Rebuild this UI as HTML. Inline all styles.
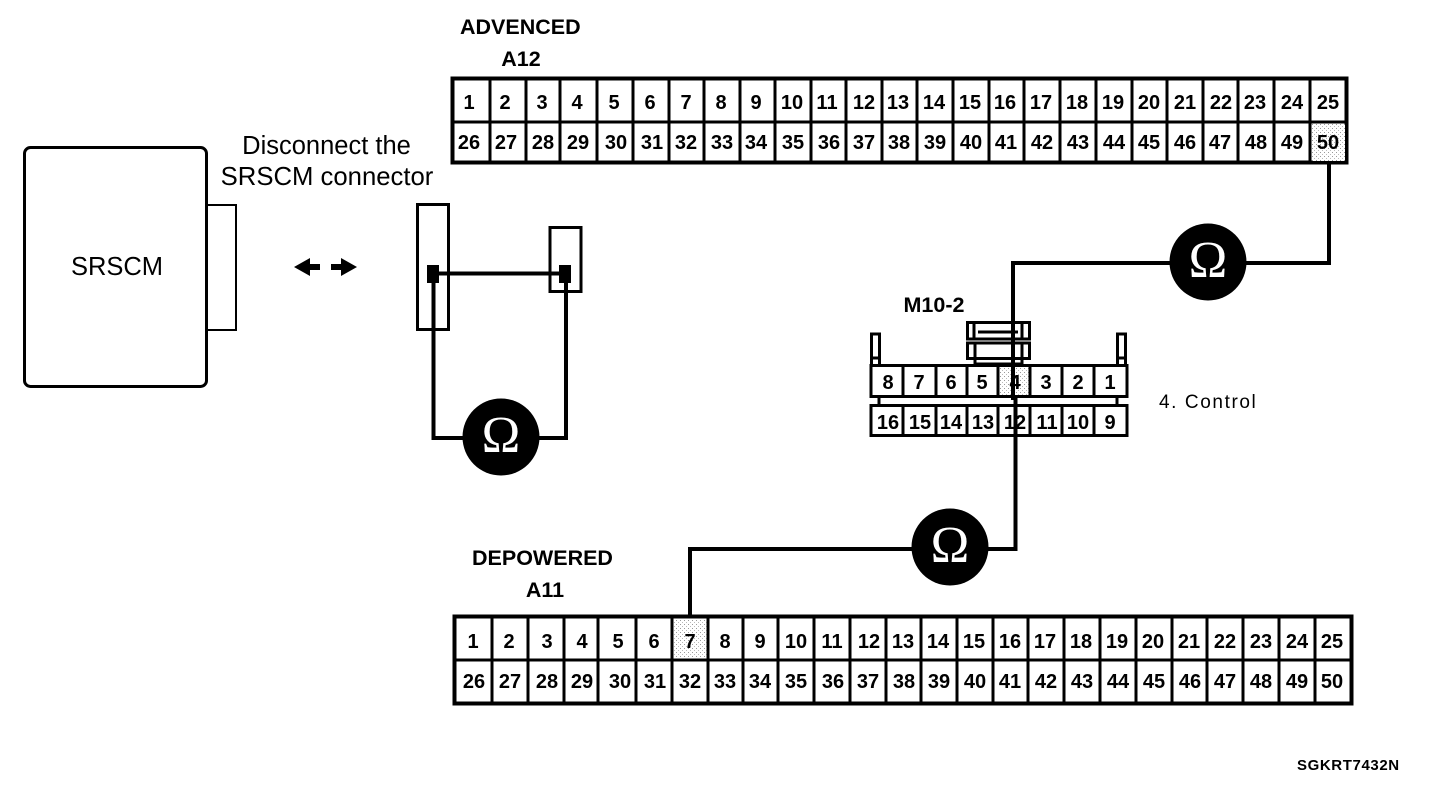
<!DOCTYPE html>
<html><head><meta charset="utf-8"><style>
html,body{margin:0;padding:0;background:#fff;width:1440px;height:794px;overflow:hidden}
svg{display:block}
text{font-family:"Liberation Sans",sans-serif;fill:#000}
.c text{font-size:20px;font-weight:bold;text-anchor:middle}
.o{font-family:"Liberation Serif",serif;font-size:52px;fill:#fff;text-anchor:middle}
.t{font-size:21.500px;font-weight:bold}
.m{text-anchor:middle}
.l{fill:none;stroke:#000}
</style></head><body>
<svg width="1440" height="794" viewBox="0 0 1440 794" xmlns="http://www.w3.org/2000/svg">
<defs><pattern id="d" width="4" height="4" patternUnits="userSpaceOnUse"><rect width="4" height="4" fill="#fff"/><rect width="1" height="1" fill="#999"/><rect x="2" y="2" width="1" height="1" fill="#bbb"/></pattern></defs>

<!-- SRSCM -->
<rect x="207" y="205" width="29" height="125" class="l" stroke-width="2"/>
<rect x="24.500" y="147.500" width="182" height="239" rx="6" class="l" stroke-width="3"/>
<text x="117" y="275" font-size="25.500" class="m">SRSCM</text>
<text x="326.500" y="154" font-size="25.500" class="m">Disconnect the</text>
<text x="327" y="185" font-size="25.700" class="m">SRSCM connector</text>
<path d="M294 267L310 258V264H320V270H310V276Z M357 267L341 258V264H331V270H341V276Z" fill="#000"/>

<!-- small connector -->
<rect x="417.500" y="204.500" width="31" height="125" class="l" stroke-width="3"/>
<rect x="550" y="227.500" width="31" height="64" class="l" stroke-width="3"/>
<rect x="427" y="265" width="12" height="18" fill="#000"/>
<rect x="559" y="265" width="12" height="18" fill="#000"/>
<path d="M438 273.500H560 M433.500 282V438H470 M566 282V438H530" class="l" stroke-width="4"/>

<!-- top wiring -->
<path d="M1329 162V263H1240 M1175 263H1013V365" class="l" stroke-width="4"/>
<path d="M1015.500 365V549H980 M920 549H690V616" class="l" stroke-width="4"/>

<!-- top table -->
<rect x="452.500" y="78.500" width="894" height="84" fill="#fff" stroke="#000" stroke-width="4"/>
<rect x="1312" y="124" width="33" height="37" fill="url(#d)"/>
<path class="l" stroke-width="3" d="M452 122H1347 M490 78V162 M526 78V162 M560 78V162 M597 78V162 M633 78V162 M669 78V162 M704 78V162 M740 78V162 M775 78V162 M811 78V162 M846 78V162 M882 78V162 M917 78V162 M953 78V162 M989 78V162 M1024 78V162 M1060 78V162 M1096 78V162 M1132 78V162 M1167 78V162 M1203 78V162 M1238 78V162 M1274 78V162 M1310 78V162"/>
<g class="c">
<text x="469" y="109">1</text><text x="505" y="109">2</text><text x="542" y="109">3</text><text x="577" y="109">4</text><text x="614" y="109">5</text><text x="650" y="109">6</text><text x="686" y="109">7</text><text x="721" y="109">8</text><text x="756" y="109">9</text><text x="792" y="109">10</text><text x="827" y="109">11</text><text x="864" y="109">12</text><text x="898" y="109">13</text><text x="934" y="109">14</text><text x="970" y="109">15</text><text x="1005" y="109">16</text><text x="1041" y="109">17</text><text x="1077" y="109">18</text><text x="1113" y="109">19</text><text x="1149" y="109">20</text><text x="1185" y="109">21</text><text x="1221" y="109">22</text><text x="1255" y="109">23</text><text x="1292" y="109">24</text><text x="1328" y="109">25</text>
<text x="469" y="149">26</text><text x="506" y="149">27</text><text x="543" y="149">28</text><text x="578" y="149">29</text><text x="616" y="149">30</text><text x="652" y="149">31</text><text x="686" y="149">32</text><text x="722" y="149">33</text><text x="756" y="149">34</text><text x="793" y="149">35</text><text x="829" y="149">36</text><text x="864" y="149">37</text><text x="899" y="149">38</text><text x="935" y="149">39</text><text x="971" y="149">40</text><text x="1006" y="149">41</text><text x="1042" y="149">42</text><text x="1078" y="149">43</text><text x="1114" y="149">44</text><text x="1149" y="149">45</text><text x="1185" y="149">46</text><text x="1220" y="149">47</text><text x="1256" y="149">48</text><text x="1292" y="149">49</text><text x="1328" y="149">50</text>
</g>
<text x="460" y="34" class="t">ADVENCED</text>
<text x="521" y="66" class="t m">A12</text>

<!-- M10-2 -->
<text x="934" y="312" class="t m">M10-2</text>
<path class="l" stroke-width="3" d="M871.500 365V334H879.500V365 M871.500 358H879.500 M1117.500 365V334H1125.500V365 M1117.500 358H1125.500"/>
<path class="l" stroke-width="3" d="M967.500 322.500H1029.500V339H967.500Z M967.500 343H1029.500V358.500H967.500Z M974 322V339 M1022 322V339 M975 343V364 M1022 343V364 M978 332H1018 M975 364H1022"/>
<rect x="999" y="367" width="30" height="29" fill="url(#d)"/>
<rect x="871" y="365.500" width="256" height="31" class="l" stroke-width="3"/>
<rect x="871" y="405.500" width="256" height="30" class="l" stroke-width="3"/>
<path class="l" stroke-width="3" d="M903 365V397 M936 365V397 M967 365V397 M998 365V397 M1030 365V397 M1062 365V397 M1094 365V397 M903 405V436 M936 405V436 M967 405V436 M998 405V436 M1030 405V436 M1062 405V436 M1094 405V436"/>
<path class="l" stroke-width="3" d="M879 397V405 M1117 397V405"/>
<path d="M1013 263V400M1015.500 400V549" class="l" stroke-width="4"/>
<g class="c">
<text x="888" y="389">8</text><text x="919" y="389">7</text><text x="951" y="389">6</text><text x="982" y="389">5</text><text x="1015" y="389">4</text><text x="1046" y="389">3</text><text x="1078" y="389">2</text><text x="1110" y="389">1</text>
<text x="888" y="429">16</text><text x="920" y="429">15</text><text x="951" y="429">14</text><text x="983" y="429">13</text><text x="1015" y="429">12</text><text x="1047" y="429">11</text><text x="1078" y="429">10</text><text x="1110" y="429">9</text>
</g>
<text x="1159" y="408" font-size="19" letter-spacing="1.600">4. Control</text>

<!-- bottom table -->
<text x="472" y="565" class="t">DEPOWERED</text>
<text x="545" y="597" class="t m">A11</text>
<rect x="454.500" y="616.500" width="897" height="87" fill="#fff" stroke="#000" stroke-width="4"/>
<rect x="674" y="619" width="33" height="39" fill="url(#d)"/>
<path class="l" stroke-width="3" d="M454 660H1352 M492 616V703 M528 616V703 M564 616V703 M598 616V703 M636 616V703 M672 616V703 M708 616V703 M743 616V703 M778 616V703 M814 616V703 M850 616V703 M886 616V703 M921 616V703 M957 616V703 M993 616V703 M1028 616V703 M1064 616V703 M1100 616V703 M1136 616V703 M1172 616V703 M1207 616V703 M1243 616V703 M1279 616V703 M1315 616V703"/>
<g class="c">
<text x="473" y="648">1</text><text x="509" y="648">2</text><text x="547" y="648">3</text><text x="582" y="648">4</text><text x="618" y="648">5</text><text x="654" y="648">6</text><text x="690" y="648">7</text><text x="725" y="648">8</text><text x="760" y="648">9</text><text x="796" y="648">10</text><text x="832" y="648">11</text><text x="869" y="648">12</text><text x="903" y="648">13</text><text x="938" y="648">14</text><text x="974" y="648">15</text><text x="1010" y="648">16</text><text x="1045" y="648">17</text><text x="1081" y="648">18</text><text x="1117" y="648">19</text><text x="1153" y="648">20</text><text x="1189" y="648">21</text><text x="1225" y="648">22</text><text x="1261" y="648">23</text><text x="1297" y="648">24</text><text x="1332" y="648">25</text>
<text x="474" y="688">26</text><text x="510" y="688">27</text><text x="547" y="688">28</text><text x="582" y="688">29</text><text x="620" y="688">30</text><text x="655" y="688">31</text><text x="690" y="688">32</text><text x="725" y="688">33</text><text x="760" y="688">34</text><text x="796" y="688">35</text><text x="833" y="688">36</text><text x="868" y="688">37</text><text x="904" y="688">38</text><text x="939" y="688">39</text><text x="975" y="688">40</text><text x="1010" y="688">41</text><text x="1046" y="688">42</text><text x="1082" y="688">43</text><text x="1118" y="688">44</text><text x="1154" y="688">45</text><text x="1190" y="688">46</text><text x="1225" y="688">47</text><text x="1261" y="688">48</text><text x="1297" y="688">49</text><text x="1332" y="688">50</text>
</g>

<!-- omega meters -->
<circle cx="501" cy="437" r="38.500" fill="#000"/><text x="501" y="452" class="o">Ω</text>
<circle cx="1208" cy="262" r="38.500" fill="#000"/><text x="1208" y="277" class="o">Ω</text>
<circle cx="950" cy="547" r="38.500" fill="#000"/><text x="950" y="562" class="o">Ω</text>

<text x="1297" y="770" font-size="15" font-weight="bold" letter-spacing="0.600">SGKRT7432N</text>
</svg>
</body></html>
